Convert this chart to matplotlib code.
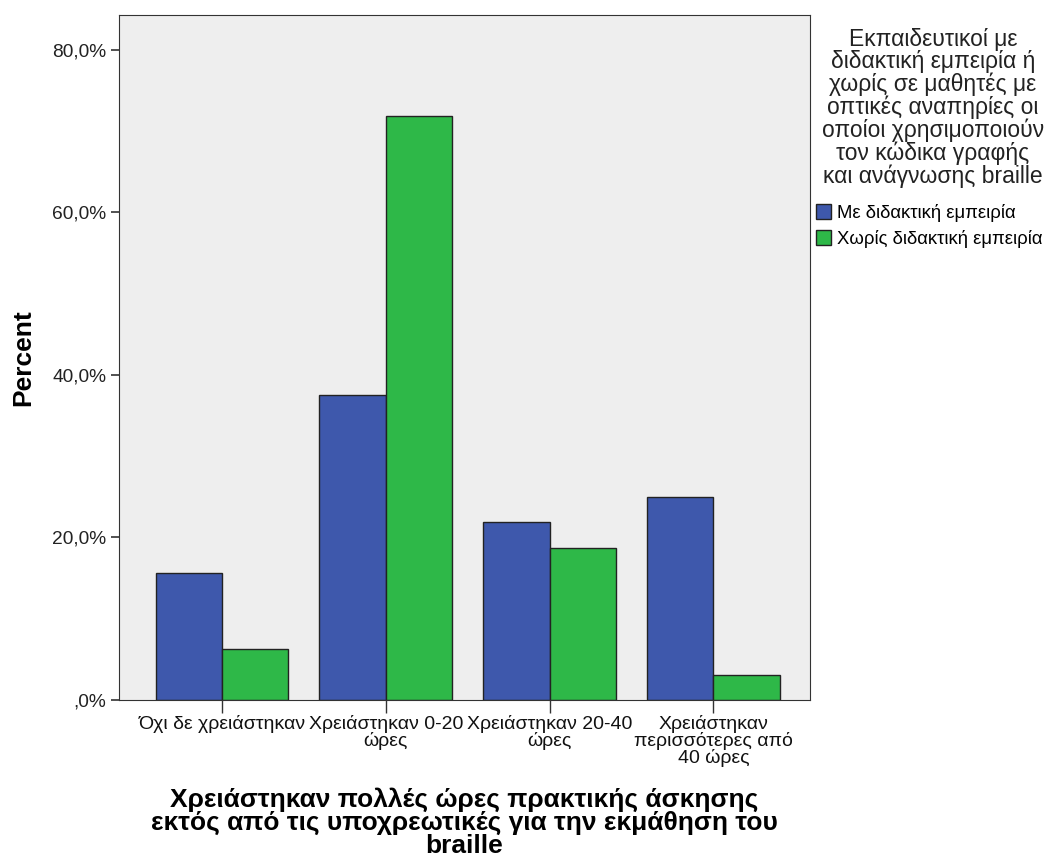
import numpy as np
import matplotlib.pyplot as plt
from matplotlib.ticker import FuncFormatter

plt.rcParams['font.family'] = ['Liberation Sans', 'DejaVu Sans']

# δεδομένα
categories = ['Όχι δε χρειάστηκαν', 'Χρειάστηκαν 0-20\nώρες',
              'Χρειάστηκαν 20-40\nώρες', 'Χρειάστηκαν\nπερισσότερες από\n40 ώρες']
series_names = ['Με διδακτική εμπειρία', 'Χωρίς διδακτική εμπειρία']
with_exp = [15.6, 37.5, 21.9, 25.0]
without_exp = [6.25, 71.9, 18.75, 3.1]
yticks = [0, 20, 40, 60, 80]
legend_title = ('Εκπαιδευτικοί με\nδιδακτική εμπειρία ή\nχωρίς σε μαθητές με\nοπτικές αναπηρίες οι\n'
                'οποίοι χρησιμοποιούν\nτον κώδικα γραφής\nκαι ανάγνωσης braille')

blue = '#3E58AC'
green = '#2EB848'

fig = plt.figure(figsize=(10.52, 8.67), dpi=100)
ax = fig.add_axes([119/1052, 1-700/867, (810-119)/1052, (700-15)/867])
ax.set_facecolor('#EEEEEE')

x = np.arange(len(categories))
w = 0.405
ax.bar(x - w/2, with_exp, w, color=blue, edgecolor='#222222', linewidth=1, label=series_names[0])
ax.bar(x + w/2, without_exp, w, color=green, edgecolor='#222222', linewidth=1, label=series_names[1])

ax.set_xlim(-0.628, 3.59)
ax.set_ylim(0, 84.3)
ax.set_yticks(yticks)
ax.yaxis.set_major_formatter(FuncFormatter(lambda v, p: ',0%' if v == 0 else f'{v:.1f}%'.replace('.', ',')))
ax.set_xticks(x)
ax.set_xticklabels(categories, fontsize=14, linespacing=0.92, color='#111111')
ax.tick_params(axis='y', labelsize=13.8, length=6, width=1.2, color='#333333', labelcolor='#222222', pad=3)
ax.tick_params(axis='x', length=9, width=1, color='#333333', pad=2)
for s in ax.spines.values():
    s.set_color('#333333')

ax.set_ylabel('Percent', fontsize=19, fontweight='bold', labelpad=12)
ax.set_xlabel('Χρειάστηκαν πολλές ώρες πρακτικής άσκησης\nεκτός από τις υποχρεωτικές για την εκμάθηση του\nbraille',
              fontsize=19, fontweight='bold', linespacing=0.93, labelpad=15)

# τίτλος υπομνήματος
fig.text(933/1052, 1-28/867, legend_title, ha='center', va='top', multialignment='center',
         fontsize=16.5, linespacing=0.97, color='#222222')
leg = ax.legend(loc='upper left', bbox_to_anchor=(812/1052, 1-200/867), bbox_transform=fig.transFigure,
                frameon=False, fontsize=13.3, handlelength=0.85, handleheight=0.85, handletextpad=0.3,
                labelspacing=0.45, borderaxespad=0, borderpad=0.2)

fig.savefig('out.png', dpi=100, facecolor='white')
